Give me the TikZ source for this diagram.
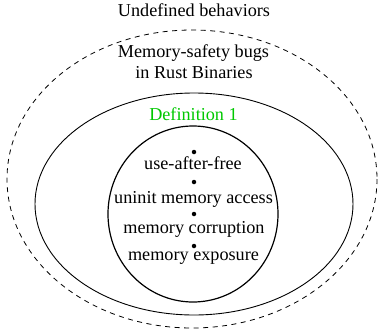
\documentclass[tikz,border=0pt]{standalone}
\usepackage{fontspec}
\setmainfont{Liberation Serif}
\definecolor{defgreen}{RGB}{0,200,0}
\tikzset{
  lbl/.style={anchor=base, inner sep=0pt, font=\fontsize{18.2}{22}\selectfont},
  bul/.style={circle, fill=black, inner sep=0pt, minimum size=4.5pt},
}
\begin{document}
\begin{tikzpicture}[x=1pt,y=-1pt]
\useasboundingbox (0,0) rectangle (378,330);
\draw[dash pattern=on 5pt off 4.5pt, line width=0.8pt] (192,179) ellipse [x radius=185, y radius=149];
\draw[line width=0.9pt] (194,204) ellipse [x radius=159, y radius=111];
\draw[line width=1.2pt] (193,214) ellipse [x radius=85, y radius=88];
\node[lbl] (ub) at (194,16) {Undefined behaviors};
\node[lbl] (ms1) at (193.5,57) {Memory-safety bugs};
\node[lbl] (ms2) at (194,78) {in Rust Binaries};
\node[lbl, text=defgreen] (def) at (193.5,120) {Definition 1};
\node[bul] (d1) at (194,152) {};
\node[lbl] (t1) at (193,169) {use-after-free};
\node[bul] (d2) at (194,182) {};
\node[lbl] (t2) at (193.5,203) {uninit memory access};
\node[bul] (d3) at (194,214) {};
\node[lbl] (t3) at (194,233) {memory corruption};
\node[bul] (d4) at (194,246) {};
\node[lbl] (t4) at (193.5,260.5) {memory exposure};
\end{tikzpicture}
\end{document}
